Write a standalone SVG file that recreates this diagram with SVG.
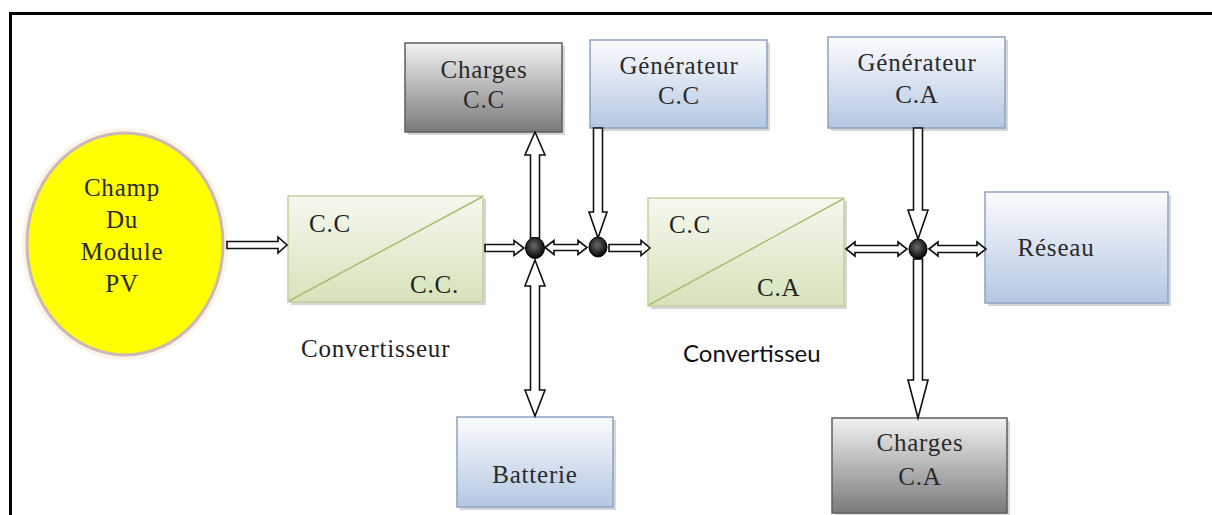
<svg xmlns="http://www.w3.org/2000/svg" width="1212" height="515" viewBox="0 0 1212 515">
<defs>
<linearGradient id="gGrey" x1="0" y1="0" x2="0" y2="1"><stop offset="0" stop-color="#f2f2f2"/><stop offset="1" stop-color="#7a7a7a"/></linearGradient>
<linearGradient id="gBlue" x1="0" y1="0" x2="0" y2="1"><stop offset="0" stop-color="#fbfcfe"/><stop offset="1" stop-color="#b4c8e2"/></linearGradient>
<linearGradient id="gGreen" x1="0" y1="0" x2="0" y2="1"><stop offset="0" stop-color="#f6f8ee"/><stop offset="1" stop-color="#d6e3bb"/></linearGradient>
<radialGradient id="gDot" cx="0.45" cy="0.4" r="0.6"><stop offset="0" stop-color="#6a6a6a"/><stop offset="0.7" stop-color="#222"/><stop offset="1" stop-color="#000"/></radialGradient>
</defs>
<style>
.ser{font-family:"Liberation Serif","DejaVu Serif",serif;font-size:25px;letter-spacing:0.8px;fill:#2a2a2a;text-anchor:middle}
.lbl{font-family:"Liberation Serif","DejaVu Serif",serif;font-size:25px;letter-spacing:0.8px;fill:#222}
.sans{font-family:Lato,"Open Sans","Liberation Sans",sans-serif;font-size:24px;fill:#111}
.shadow{fill:#c4c4c4;opacity:0.7}
.grey{fill:url(#gGrey);stroke:#5e5e5e;stroke-width:1.5}
.blue{fill:url(#gBlue);stroke:#8da2c2;stroke-width:1.5}
.green{fill:url(#gGreen);stroke:#c2d19f;stroke-width:1.5}
.diag{stroke:#a8bf73;stroke-width:1.5}
.arr{fill:#fff;stroke:#111;stroke-width:1.6;stroke-linejoin:miter}
.dot{fill:url(#gDot);stroke:#000;stroke-width:1}
</style>
<rect width="1212" height="515" fill="#fff"/>
<path d="M10.5,515 V13.5 H1212" fill="none" stroke="#000" stroke-width="3"/>

<g id="champ">
<ellipse cx="125" cy="244" rx="100" ry="113" fill="none" stroke="#f4ecd8" stroke-width="6" opacity="0.6"/>
<ellipse cx="125" cy="244" rx="98" ry="111" fill="#ffff00" stroke="#cdb8b8" stroke-width="3"/>
<text class="ser" x="122" y="196">Champ</text>
<text class="ser" x="122" y="228">Du</text>
<text class="ser" x="122" y="260">Module</text>
<text class="ser" x="122" y="292">PV</text>
</g>

<g id="conv1">
<rect class="shadow" x="291" y="199" width="195" height="106"/>
<rect class="green" x="288" y="196" width="195" height="106"/>
<line class="diag" x1="289" y1="301" x2="482" y2="197"/>
<text class="lbl" x="309" y="232">C.C</text>
<text class="lbl" x="410" y="293">C.C.</text>
<text class="lbl" x="301" y="357">Convertisseur</text>
</g>

<g id="conv2">
<rect class="shadow" x="651" y="201" width="196" height="108"/>
<rect class="green" x="648" y="198" width="196" height="108"/>
<line class="diag" x1="649" y1="305" x2="843" y2="199"/>
<text class="lbl" x="669" y="233">C.C</text>
<text class="lbl" x="757" y="296">C.A</text>
<text class="sans" x="683" y="362">Convertisseu</text>
</g>

<g id="chargesCC">
<rect class="shadow" x="408" y="46" width="157" height="89"/>
<rect class="grey" x="405" y="43" width="157" height="89"/>
<text class="ser" x="484" y="78">Charges</text>
<text class="ser" x="484" y="108">C.C</text>
</g>

<g id="genCC">
<rect class="shadow" x="593" y="43" width="177" height="88"/>
<rect class="blue" x="590" y="40" width="177" height="88"/>
<text class="ser" x="679" y="74">Générateur</text>
<text class="ser" x="679" y="104">C.C</text>
</g>

<g id="genCA">
<rect class="shadow" x="831" y="40" width="177" height="91"/>
<rect class="blue" x="828" y="37" width="177" height="91"/>
<text class="ser" x="917" y="71">Générateur</text>
<text class="ser" x="917" y="103">C.A</text>
</g>

<g id="reseau">
<rect class="shadow" x="988" y="195" width="183" height="111"/>
<rect class="blue" x="985" y="192" width="183" height="111"/>
<text class="ser" x="1056" y="256">Réseau</text>
</g>

<g id="batterie">
<rect class="shadow" x="460" y="420" width="156" height="90"/>
<rect class="blue" x="457" y="417" width="156" height="90"/>
<text class="ser" x="535" y="483">Batterie</text>
</g>

<g id="chargesCA">
<rect class="shadow" x="835" y="421" width="175" height="94"/>
<rect class="grey" x="832" y="418" width="175" height="95"/>
<text class="ser" x="920" y="451">Charges</text>
<text class="ser" x="920" y="485">C.A</text>
</g>

<g id="connectors">
<polygon class="arr" points="227,241.5 278,241.5 278,237 287,245 278,253 278,248.5 227,248.5"/>
<polygon class="arr" points="485,244.5 514,244.5 514,240.5 524,248 514,255.5 514,251.5 485,251.5"/>
<polygon class="arr" points="545,247.5 554,240.5 554,244.5 578,244.5 578,240.5 587,247.5 578,254.5 578,250.5 554,250.5 554,254.5"/>
<polygon class="arr" points="609,244.5 641,244.5 641,240.5 650,248 641,255.5 641,251.5 609,251.5"/>
<polygon class="arr" points="846,249 855,242 855,245.5 898,245.5 898,242 907,249 898,256 898,252.5 855,252.5 855,256"/>
<polygon class="arr" points="929,249 938,242 938,245.5 977,245.5 977,242 986,249 977,256 977,252.5 938,252.5 938,256"/>
<polygon class="arr" points="535,132 545,155 539.5,155 539.5,238 530.5,238 530.5,155 525,155"/>
<polygon class="arr" points="535,260 545,286 539.5,286 539.5,390 545,390 535,416 525,390 530.5,390 530.5,286 525,286"/>
<polygon class="arr" points="593.5,128 602.5,128 602.5,212 607,212 598,238 589,212 593.5,212"/>
<polygon class="arr" points="913.5,128 922.5,128 922.5,210 928,210 918,239 908,210 913.5,210"/>
<polygon class="arr" points="913.5,259 922.5,259 922.5,380 928,380 918,418 908,380 913.5,380"/>
<ellipse class="dot" cx="535" cy="248" rx="9.5" ry="10.5"/>
<ellipse class="dot" cx="598" cy="247" rx="9" ry="10"/>
<ellipse class="dot" cx="918" cy="249" rx="9" ry="10"/>
</g>
</svg>
